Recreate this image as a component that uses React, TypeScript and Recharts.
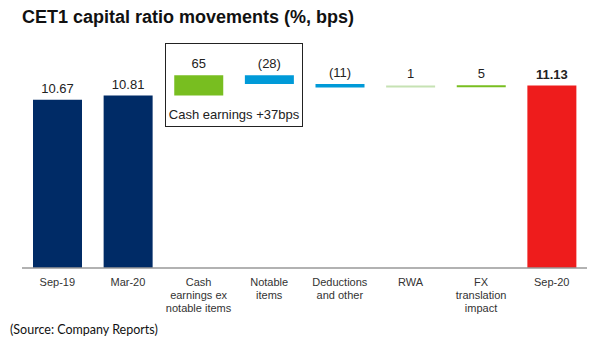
import { BarChart, Bar, XAxis, YAxis, Cell, LabelList } from "recharts";

const categories = [
  "Sep-19",
  "Mar-20",
  "Cash\nearnings ex\nnotable items",
  "Notable\nitems",
  "Deductions\nand other",
  "RWA",
  "FX\ntranslation\nimpact",
  "Sep-20",
];
// opening / closing ratios in %, movements in bps
const openingRatios = [10.67, 10.81];
const movementsBps = [65, -28, -11, 1, 5];
const closingRatio = 11.13;
const barColors = ["#002b66", "#002b66", "#78be20", "#009ad8", "#009ad8", "#c6e2b3", "#78be20", "#ee1c1c"];

const Y_MIN = 5.25;
const Y_MAX = 12.6;

let running = openingRatios[openingRatios.length - 1];
const data = [
  ...openingRatios.map((v, i) => ({ name: categories[i], span: v, label: v.toFixed(2), bold: false })),
  ...movementsBps.map((bps, i) => {
    const lo = running;
    running = running + bps / 100;
    return {
      name: categories[openingRatios.length + i],
      span: [Math.min(lo, running), Math.max(lo, running)],
      label: bps < 0 ? `(${-bps})` : `${bps}`,
      bold: false,
    };
  }),
  { name: categories[7], span: closingRatio, label: closingRatio.toFixed(2), bold: true },
];

const MultiLineTick = (props: any) => {
  const { x, y, payload } = props;
  const lines = String(payload.value).split("\n");
  return (
    <text x={x} y={y + 10} textAnchor="middle" fill="#333" fontSize={11} fontFamily="Liberation Sans, Arial, sans-serif">
      {lines.map((l, i) => (
        <tspan key={i} x={x} dy={i === 0 ? 0 : 13}>{l}</tspan>
      ))}
    </text>
  );
};

const ValueLabel = (props: any) => {
  const { x, y, width, index } = props;
  const d = data[index];
  return (
    <text
      x={x + width / 2}
      y={y - 7}
      textAnchor="middle"
      fill="#222"
      fontSize={13}
      fontWeight={d.bold ? 700 : 400}
      fontFamily="Liberation Sans, Arial, sans-serif"
    >
      {d.label}
    </text>
  );
};

export default function App() {
  return (
    <div style={{ position: "absolute", left: 0, top: 0, width: 597, height: 350, background: "#fff" }}>
      <div
        style={{
          position: "absolute",
          left: 22,
          top: 7,
          fontFamily: "Liberation Sans, Arial, sans-serif",
          fontWeight: 700,
          fontSize: 18,
          color: "#111",
        }}
      >
        CET1 capital ratio movements (%, bps)
      </div>
      <div
        style={{
          position: "absolute",
          left: 165,
          top: 43,
          width: 136,
          height: 82,
          border: "1px solid #222",
        }}
      />
      <div
        style={{
          position: "absolute",
          left: 166,
          top: 107,
          width: 136,
          textAlign: "center",
          fontFamily: "Liberation Sans, Arial, sans-serif",
          fontSize: 13,
          color: "#222",
        }}
      >
        Cash earnings +37bps
      </div>
      <BarChart
        width={597}
        height={350}
        data={data}
        margin={{ top: 40, right: 10, left: 22, bottom: 32 }}
        barSize={49}
      >
        <XAxis
          dataKey="name"
          axisLine={{ stroke: "#999", strokeWidth: 1.5 }}
          tickLine={false}
          tick={<MultiLineTick />}
          interval={0}
          height={50}
        />
        <YAxis hide domain={[Y_MIN, Y_MAX]} allowDataOverflow />
        <Bar dataKey="span" isAnimationActive={false} minPointSize={2}>
          {data.map((_, i) => (
            <Cell key={i} fill={barColors[i]} />
          ))}
          <LabelList dataKey="label" content={<ValueLabel />} />
        </Bar>
      </BarChart>
      <div
        style={{
          position: "absolute",
          left: 10,
          top: 322,
          fontFamily: "Lato, sans-serif",
          fontSize: 12.5,
          color: "#111",
        }}
      >
        (Source: Company Reports)
      </div>
    </div>
  );
}
